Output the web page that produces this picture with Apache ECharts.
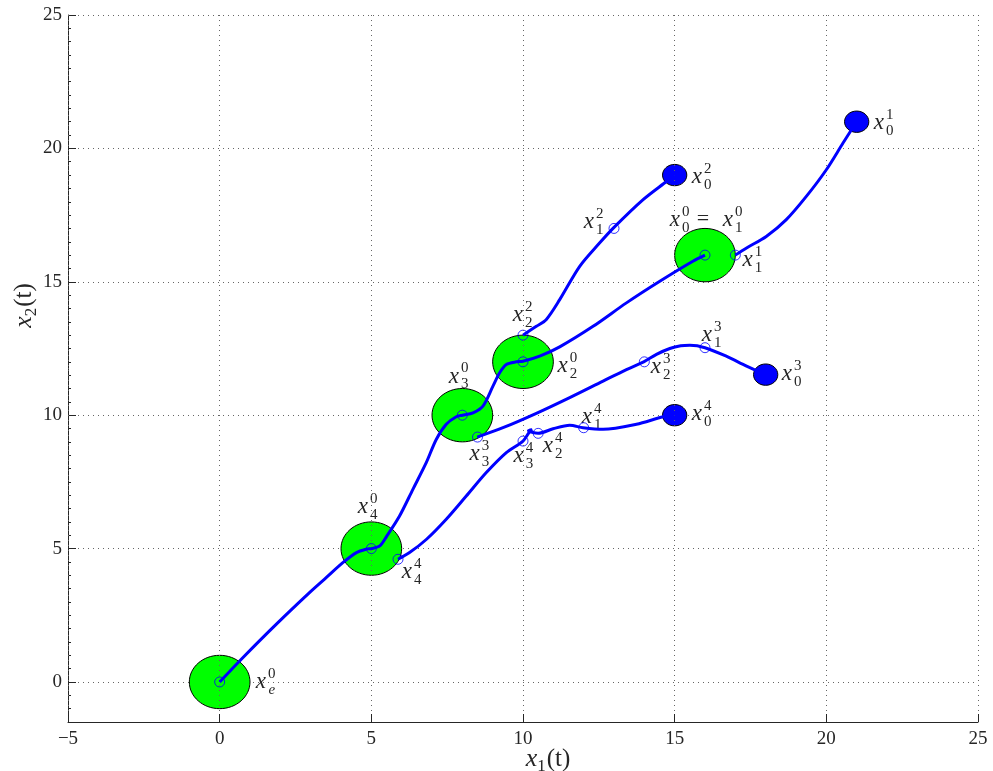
<!DOCTYPE html>
<html>
<head>
<meta charset="utf-8">
<script src="https://cdn.jsdelivr.net/npm/echarts@6/dist/echarts.min.js"></script>
<style>html,body{margin:0;padding:0;background:#fff}#c{width:993px;height:771px}</style>
</head>
<body>
<div id="c"></div>
<script>
// ---- data ----
const xTicks = [-5, 0, 5, 10, 15, 20, 25];
const yTicks = [0, 5, 10, 15, 20, 25];
const traj0 = [[0,0],[0.77,0.92],[1.87,2.17],[2.97,3.36],[3.52,3.92],[4.07,4.48],[4.51,4.85],[4.84,4.98],[5,5],[5.28,5.1],[5.5,5.45],[5.93,6.22],[6.37,7.22],[6.81,8.22],[7.14,9.09],[7.47,9.66],[7.8,9.94],[8,10],[8.35,10.09],[8.68,10.34],[9.01,11.09],[9.23,11.59],[9.45,11.9],[9.78,12.0],[10,12.02],[10.55,12.21],[11.21,12.56],[12.31,13.33],[13.41,14.21],[14.51,15.02],[15.6,15.77],[16,16]];
const traj1 = [[17,16],[17.37,16.27],[18.02,16.7],[18.68,17.33],[19.34,18.2],[20,19.2],[20.55,20.2],[21,21]];
const traj2 = [[10,13],[10.44,13.33],[10.77,13.59],[11.21,14.33],[11.87,15.58],[12.53,16.46],[13,17.04],[13.96,18.08],[14.73,18.76],[15,19]];
const traj3 = [[8.49,9.18],[9.34,9.53],[10.44,10.07],[11.54,10.66],[12.64,11.28],[13.41,11.71],[13.98,12.0],[14.4,12.28],[14.84,12.5],[15.2,12.6],[15.5,12.62],[16,12.53],[16.7,12.21],[17.37,11.84],[18,11.52]];
const traj4 = [[5.88,4.6],[6.26,4.85],[6.82,5.35],[7.47,6.1],[8.13,6.97],[8.79,7.85],[9.45,8.6],[10,9.03],[10.2,9.35],[10.3,9.45],[10.18,9.42],[10.3,9.36],[10.5,9.32],[10.99,9.49],[11.54,9.62],[11.98,9.53],[12.64,9.47],[13.74,9.66],[14.62,9.94],[15,10]];
const hollowPts = [[0,0],[5,5],[8,10],[10,12],[16,16],[17,16],[10,13],[13,17],[8.5,9.18],[14,12],[16,12.53],[5.88,4.6],[10,9.03],[10.5,9.32],[12,9.53]];
const greenBalls = [[0,0],[5,5],[8,10],[10,12],[16,16]];
const greenR = 1;
const blueBalls = [[15,19],[21,21],[18,11.52],[15,10]];
const blueR = 0.4;
// label anchors: [x, y, superscript, subscript, prefix]
const labels = [
  [1.19,0.0,'0','e',''],
  [4.55,6.55,'0','4',''],
  [6.0,4.12,'4','4',''],
  [7.55,11.45,'0','3',''],
  [8.24,8.53,'3','3',''],
  [9.69,8.46,'4','3',''],
  [10.65,8.83,'4','2',''],
  [11.94,9.92,'4','1',''],
  [11.14,11.83,'0','2',''],
  [9.66,13.77,'2','2',''],
  [15.56,18.94,'2','0',''],
  [12.0,17.25,'2','1',''],
  [14.84,17.33,'0','0',''],
  [15.73,17.33,'0','1','='],
  [17.24,15.83,'1','1',''],
  [21.56,20.96,'1','0',''],
  [15.89,13.02,'3','1',''],
  [14.21,11.79,'3','2',''],
  [18.53,11.53,'3','0',''],
  [15.56,10.03,'4','0','']
];

const SERIF = '"Liberation Serif", "DejaVu Serif", serif';
const BLUE = '#0000ff';
const TXT = '#262626';

function ballSeries(pts, r, fill) {
  return {
    type: 'custom',
    coordinateSystem: 'cartesian2d',
    data: pts.map(p => [p[0], p[1], r]),
    encode: {x: 0, y: 1},
    renderItem: function (params, api) {
      const c = api.coord([api.value(0), api.value(1)]);
      const s = api.size([api.value(2), api.value(2)]);
      return {type: 'ellipse', shape: {cx: c[0], cy: c[1], rx: s[0], ry: s[1]},
        style: {fill: fill, stroke: '#000', lineWidth: 1}};
    },
    silent: true
  };
}
function lineSeries(d) {
  return {type: 'line', data: d, showSymbol: false, smooth: 0.3,
    lineStyle: {color: BLUE, width: 3}, itemStyle: {color: BLUE}, silent: true};
}
function fmt(v) { return String(v).replace('-', '\u2212'); }
const nameRich = {
  i: {fontStyle: 'italic', fontSize: 26, fontFamily: SERIF, color: TXT},
  s: {fontSize: 17, fontFamily: SERIF, color: TXT, verticalAlign: 'bottom', padding: [14, 1, 0, 0]},
  n: {fontSize: 25, fontFamily: SERIF, color: TXT}
};

const chart = echarts.init(document.getElementById('c'));
chart.setOption({
  animation: false,
  backgroundColor: '#fff',
  grid: {left: 68, right: 15, top: 15, bottom: 49, outerBoundsMode: 'none', containLabel: false},
  xAxis: {
    type: 'value', min: xTicks[0], max: xTicks[xTicks.length - 1], interval: 5,
    axisLine: {show: true, onZero: false, lineStyle: {color: TXT, width: 1}},
    axisTick: {show: true, inside: true, length: 8, lineStyle: {color: TXT}},
    axisLabel: {color: TXT, fontFamily: SERIF, fontSize: 19, margin: 8, formatter: fmt},
    splitLine: {show: true, lineStyle: {color: '#666', type: [1, 4], width: 1}},
    name: '{i|x}{s|1}{n|(t)}', nameLocation: 'middle', nameGap: 22, nameMoveOverlap: false,
    nameTextStyle: {padding: [0, 0, 0, 50], color: TXT, fontFamily: SERIF, rich: nameRich},
    z: 3
  },
  yAxis: {
    type: 'value', min: -1.5, max: yTicks[yTicks.length - 1], splitNumber: 5, minInterval: 5, maxInterval: 5,
    axisLine: {show: true, onZero: false, lineStyle: {color: TXT, width: 1}},
    axisTick: {show: true, inside: true, length: 8, lineStyle: {color: TXT}},
    minorTick: {show: true, splitNumber: 10, length: 3, lineStyle: {color: TXT}},
    axisLabel: {color: TXT, fontFamily: SERIF, fontSize: 19, margin: 6, showMinLabel: false, formatter: fmt},
    splitLine: {show: true, lineStyle: {color: '#666', type: [1, 4], width: 1}},
    name: '{i|x}{s|2}{n|(t)}', nameLocation: 'middle', nameGap: 28, nameRotate: 90, nameMoveOverlap: false,
    nameTextStyle: {padding: [0, 0, 0, 126], color: TXT, fontFamily: SERIF, rich: nameRich}
  },
  series: [
    ballSeries(greenBalls, greenR, '#00ff00'),
    lineSeries(traj0), lineSeries(traj1), lineSeries(traj2), lineSeries(traj3), lineSeries(traj4),
    {type: 'scatter', data: hollowPts, symbol: 'circle', symbolSize: 10, silent: true,
     itemStyle: {color: 'rgba(0,0,0,0)', borderColor: BLUE, borderWidth: 1}},
    ballSeries(blueBalls, blueR, BLUE),
    {
      type: 'custom', coordinateSystem: 'cartesian2d', silent: true,
      data: labels.map(l => [l[0], l[1]]), encode: {x: 0, y: 1},
      renderItem: function (params, api) {
        const L = labels[params.dataIndex];
        const c = api.coord([L[0], L[1]]);
        let x0 = c[0];
        const kids = [];
        if (L[4]) {
          kids.push({type: 'text', x: x0, y: c[1], style: {text: L[4], fill: TXT,
            fontSize: 22, fontFamily: SERIF, align: 'left', verticalAlign: 'middle'}});
          x0 += 26;
        }
        kids.push({type: 'text', x: x0, y: c[1], style: {text: 'x', fill: TXT,
          fontSize: 23, fontStyle: 'italic', fontFamily: SERIF, align: 'left', verticalAlign: 'middle'}});
        kids.push({type: 'text', x: x0 + 16, y: c[1] - 8, style: {text: L[2], fill: TXT,
          fontSize: 15, fontFamily: SERIF, align: 'center', verticalAlign: 'middle'}});
        kids.push({type: 'text', x: x0 + 16, y: c[1] + 8, style: {text: L[3], fill: TXT,
          fontSize: 15, fontFamily: SERIF, fontStyle: L[3] === 'e' ? 'italic' : 'normal', align: 'center', verticalAlign: 'middle'}});
        return {type: 'group', children: kids};
      }
    }
  ]
});
</script>
</body>
</html>
